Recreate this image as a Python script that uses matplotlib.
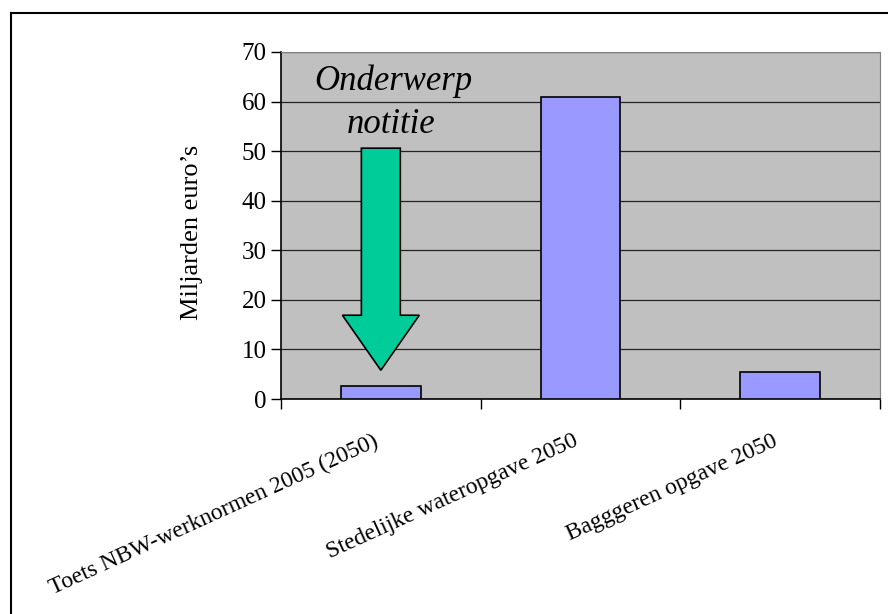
import matplotlib
matplotlib.use('Agg')
import matplotlib.pyplot as plt
from matplotlib.patches import FancyArrow
from matplotlib.lines import Line2D

plt.rcParams['font.family'] = ['Liberation Serif', 'DejaVu Serif']

categories = ["Toets NBW-werknormen 2005 (2050)",
              "Stedelijke wateropgave 2050",
              "Bagggeren opgave 2050"]
values = [2.6, 61, 5.4]
y_ticks = [0, 10, 20, 30, 40, 50, 60, 70]

fig = plt.figure(figsize=(8.88, 6.14), dpi=100)
ax = fig.add_axes([281 / 888, 1 - 399 / 614, 599 / 888, 347 / 614])
ax.set_facecolor('#c0c0c0')

x = list(range(len(categories)))
ax.bar(x, values, width=0.4, color='#9999ff', edgecolor='black',
       linewidth=1.2, zorder=3)

ax.set_xlim(-0.5, 2.5)
ax.set_ylim(0, 70)
ax.set_yticks(y_ticks)
ax.yaxis.grid(True, color='#222222', linewidth=0.9, zorder=1)
ax.tick_params(axis='y', labelsize=18, length=7, width=1, direction='out')

# category ticks sit on the boundaries, labels on the centres
ax.set_xticks([-0.5, 0.5, 1.5, 2.5])
ax.set_xticklabels([])
ax.tick_params(axis='x', length=7, width=1, direction='out')
for i, name in enumerate(categories):
    ax.text(i - 0.04, -6.4, name, rotation=24.5, ha='right', va='top',
            rotation_mode='anchor', fontsize=17)

ax.set_ylabel("Miljarden euro\u2019s", fontsize=19)
ax.yaxis.set_label_coords(-0.13, 0.48)

for side in ['top', 'right']:
    ax.spines[side].set_color('#808080')
ax.spines['left'].set_linewidth(1.2)
ax.spines['bottom'].set_linewidth(1.2)

# green arrow pointing at the first bar
arrow = FancyArrow(0, 50.6, 0, -44.8, width=0.195, head_width=0.385,
                   head_length=11.1, length_includes_head=True,
                   facecolor='#00cc99', edgecolor='black', linewidth=1.2,
                   zorder=4)
ax.add_patch(arrow)
ax.text(0.06, 64, "Onderwerp", style='italic', fontsize=25,
        ha='center', va='center', zorder=5)
ax.text(0.05, 55.3, "notitie", style='italic', fontsize=25,
        ha='center', va='center', zorder=5)

# outer chart frame (left and top edges visible)
fig.add_artist(Line2D([11 / 888, 11 / 888], [0, 1 - 13 / 614],
                      transform=fig.transFigure, color='black', linewidth=1.5))
fig.add_artist(Line2D([11 / 888, 1], [1 - 13 / 614, 1 - 13 / 614],
                      transform=fig.transFigure, color='black', linewidth=1.5))

fig.savefig('out.png', dpi=100)
